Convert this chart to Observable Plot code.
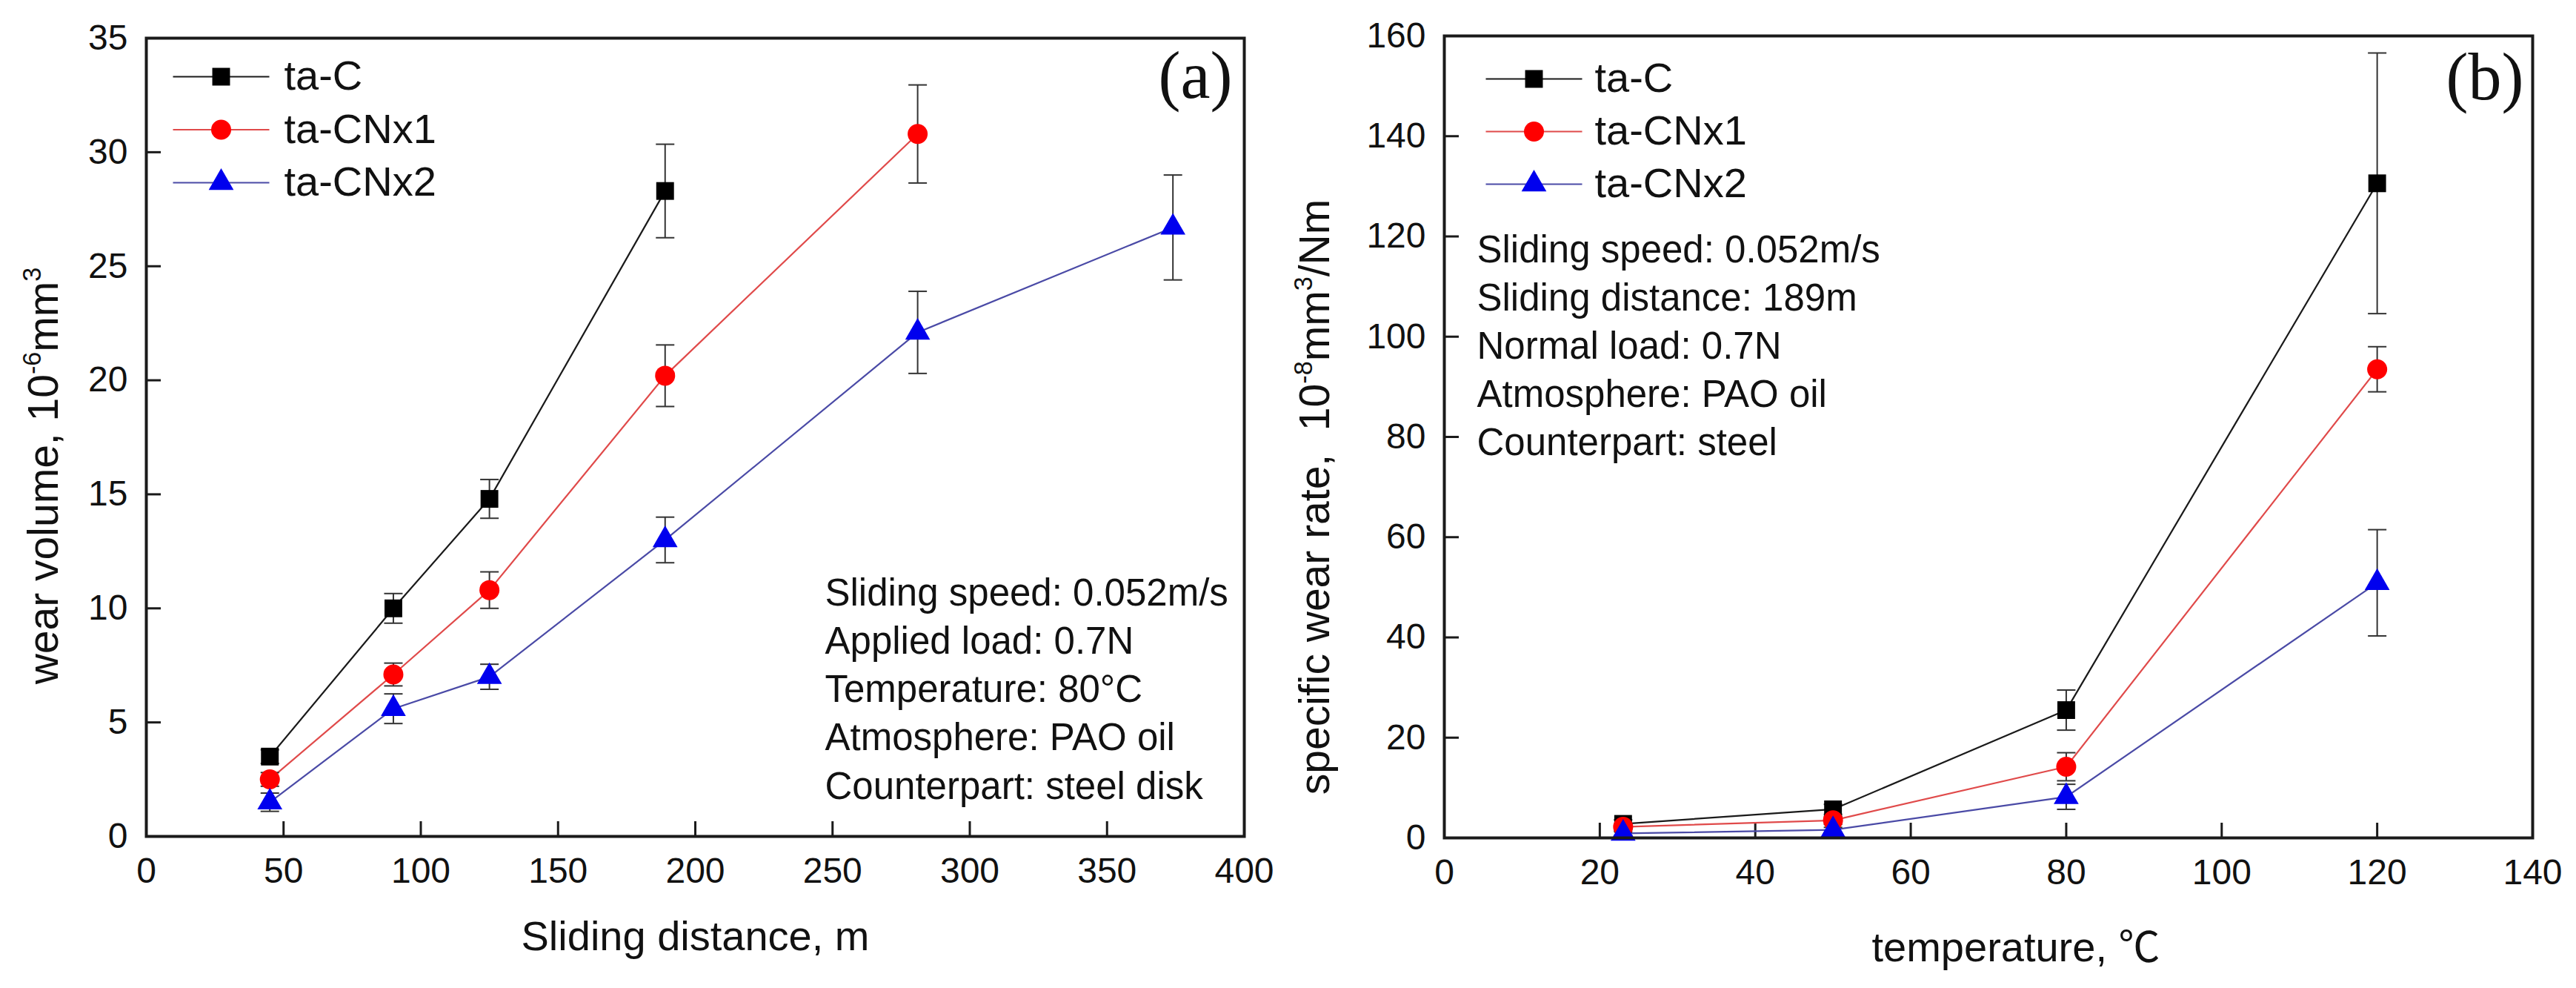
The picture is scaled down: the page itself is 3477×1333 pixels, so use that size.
<!DOCTYPE html>
<html>
<head>
<meta charset="utf-8">
<script src="https://cdn.jsdelivr.net/npm/d3@7"></script>
<script src="https://cdn.jsdelivr.net/npm/@observablehq/plot@0.6"></script>
<style>
  html, body { margin: 0; padding: 0; background: #fff; }
  #wrap { display: flex; flex-direction: row; width: 3477px; height: 1333px; overflow: hidden; background: #fff; }
  svg { display: block; }
</style>
</head>
<body>
<div id="wrap"></div>
<script>
// ---------- DATA ----------
const seriesNames = ["ta-C", "ta-CNx1", "ta-CNx2"];

// Panel (a): wear volume vs sliding distance
const distanceTaC   = [45, 90, 125, 189];
const volumeTaC     = [3.5, 10.0, 14.8, 28.3];
const volumeErrTaC  = [0.3, 0.65, 0.85, 2.05];

const distanceCNx1  = [45, 90, 125, 189, 281];
const volumeCNx1    = [2.5, 7.1, 10.8, 20.2, 30.8];
const volumeErrCNx1 = [0.3, 0.5, 0.8, 1.35, 2.15];

const distanceCNx2  = [45, 90, 125, 189, 281, 374];
const volumeCNx2    = [1.5, 5.6, 7.0, 13.0, 22.1, 26.7];
const volumeErrCNx2 = [0.4, 0.65, 0.55, 1.0, 1.8, 2.3];

// Panel (b): specific wear rate vs temperature
const temperatures  = [23, 50, 80, 120];
const rateTaC       = [2.8, 5.7, 25.5, 130.6];
const rateErrTaC    = [0.8, 1.0, 4.0, 26.0];
const rateCNx1      = [2.2, 3.5, 14.2, 93.5];
const rateErrCNx1   = [0.5, 0.8, 2.8, 4.5];
const rateCNx2      = [0.9, 1.6, 8.2, 50.9];
const rateErrCNx2   = [0.4, 0.5, 2.5, 10.6];

// Ticks
const distanceTicks    = [0, 50, 100, 150, 200, 250, 300, 350, 400];
const volumeTicks      = [0, 5, 10, 15, 20, 25, 30, 35];
const temperatureTicks = [0, 20, 40, 60, 80, 100, 120, 140];
const rateTicks        = [0, 20, 40, 60, 80, 100, 120, 140, 160];

// Texts
const xTitleA = "Sliding distance, m";
const yTitleA = "wear volume, 10^{-6}mm^{3}";
const xTitleB = "temperature, \u2103";
const yTitleB = "specific wear rate,  10^{-8}mm^{3}/Nm";
const notesA = ["Sliding speed: 0.052m/s", "Applied load: 0.7N", "Temperature: 80\u00B0C", "Atmosphere: PAO oil", "Counterpart: steel disk"];
const notesB = ["Sliding speed: 0.052m/s", "Sliding distance: 189m", "Normal load: 0.7N", "Atmosphere: PAO oil", "Counterpart: steel"];
const panelTagA = "(a)";
const panelTagB = "(b)";

// ---------- STYLE ----------
const seriesStyle = {
  "ta-C":    {fill: "#000000", line: "#1a1a1a", symbol: "square",   r: 13.5},
  "ta-CNx1": {fill: "#ff0000", line: "#e04a4a", symbol: "circle",   r: 13.5},
  "ta-CNx2": {fill: "#0000ee", line: "#4a4aa6", symbol: "triangle", r: 12.5}
};
const FONT = "'Liberation Sans', Arial, 'Noto Sans CJK SC', sans-serif";

function hLine(half) {
  return {draw(ctx) { ctx.moveTo(-half, 0); ctx.lineTo(half, 0); }};
}

function rowsOf(xs, ys, es) {
  return xs.map((x, i) => ({x, y: ys[i], lo: ys[i] - es[i], hi: ys[i] + es[i]}));
}

function applySup(svg, fontSize) {
  const ns = "http://www.w3.org/2000/svg";
  svg.querySelectorAll("text").forEach(t => {
    const s = t.textContent;
    if (!s.includes("^{")) return;
    while (t.firstChild) t.removeChild(t.firstChild);
    const shift = fontSize * 0.4;
    const re = /\^\{([^}]*)\}/g;
    let last = 0, m, raised = false;
    const add = (str, sup) => {
      const ts = document.createElementNS(ns, "tspan");
      ts.textContent = str;
      if (sup) { ts.setAttribute("font-size", fontSize * 0.6); ts.setAttribute("dy", -shift); raised = true; }
      else if (raised) { ts.setAttribute("dy", shift); raised = false; }
      t.appendChild(ts);
    };
    while ((m = re.exec(s))) {
      if (m.index > last) add(s.slice(last, m.index), false);
      add(m[1], true);
      last = re.lastIndex;
    }
    if (last < s.length) add(s.slice(last), false);
  });
}

function panel(cfg) {
  const innerW = cfg.width - cfg.ml - cfg.mr;
  const innerH = cfg.height - cfg.mt - cfg.mb;
  const marks = [];
  // axes labels (ticks drawn inward separately)
  marks.push(Plot.axisX(cfg.xTicks, {tickSize: 0, tickPadding: 28, fontSize: 48, label: null}));
  marks.push(Plot.axisY(cfg.yTicks, {tickSize: 0, tickPadding: 25, fontSize: 48, label: null}));
  // inward ticks
  marks.push(Plot.ruleX(cfg.xTicks, {x: d => d, insetTop: innerH - 20, stroke: "#1a1a1a", strokeWidth: 3}));
  marks.push(Plot.ruleY(cfg.yTicks, {y: d => d, insetRight: innerW - 20, stroke: "#1a1a1a", strokeWidth: 3}));
  // data
  cfg.series.forEach(s => {
    const st = seriesStyle[s.name];
    marks.push(Plot.line(s.rows, {x: "x", y: "y", stroke: st.line, strokeWidth: 2.2}));
  });
  cfg.series.forEach(s => {
    marks.push(Plot.ruleX(s.rows, {x: "x", y1: "lo", y2: "hi", stroke: "#333", strokeWidth: 2}));
    marks.push(Plot.dot(s.rows, {x: "x", y: "lo", symbol: hLine(12.5), fill: "none", stroke: "#333", strokeWidth: 2}));
    marks.push(Plot.dot(s.rows, {x: "x", y: "hi", symbol: hLine(12.5), fill: "none", stroke: "#333", strokeWidth: 2}));
  });
  cfg.series.forEach(s => {
    const st = seriesStyle[s.name];
    marks.push(Plot.dot(s.rows, {x: "x", y: "y", symbol: st.symbol, r: st.r, fill: st.fill, stroke: "none"}));
  });
  // legend
  seriesNames.forEach((name, i) => {
    const st = seriesStyle[name];
    const dy = cfg.legend.dy0 + i * cfg.legend.step;
    marks.push(Plot.dot([name], {x: null, y: null, frameAnchor: "top-left", dx: cfg.legend.lineDx, dy, symbol: hLine(65), fill: "none", stroke: st.line, strokeWidth: 2.2}));
    marks.push(Plot.dot([name], {x: null, y: null, frameAnchor: "top-left", dx: cfg.legend.lineDx, dy, symbol: st.symbol, r: st.r, fill: st.fill, stroke: "none"}));
    marks.push(Plot.text([name], {x: null, y: null, text: d => d, frameAnchor: "top-left", dx: cfg.legend.textDx, dy, textAnchor: "start", lineAnchor: "middle", fontSize: 56, fill: "#111"}));
  });
  // annotation
  marks.push(Plot.text([cfg.notes.join("\n")], {x: null, y: null, text: d => d, frameAnchor: "top-left", dx: cfg.notesDx, dy: cfg.notesDy, textAnchor: "start", lineAnchor: "bottom", lineHeight: cfg.notesLH, fontSize: 51, fill: "#111"}));
  // panel tag
  marks.push(Plot.text([cfg.tag], {x: null, y: null, text: d => d, frameAnchor: "top-right", dx: cfg.tagDx, dy: cfg.tagDy, textAnchor: "end", lineAnchor: "middle", fontFamily: "'Liberation Serif', 'Times New Roman', serif", fontSize: 90, fill: "#111"}));
  // axis titles
  marks.push(Plot.text([cfg.xTitle], {x: null, y: null, text: d => d, frameAnchor: "bottom", dx: cfg.xTitleDx, dy: cfg.xTitleDy, textAnchor: "middle", lineAnchor: "middle", fontSize: 56, fill: "#111"}));
  marks.push(Plot.text([cfg.yTitle], {x: null, y: null, text: d => d, frameAnchor: "left", rotate: -90, dx: cfg.yTitleDx, dy: cfg.yTitleDy, textAnchor: "middle", lineAnchor: "middle", fontSize: 57, fill: "#111"}));
  // frame
  marks.push(Plot.frame({stroke: "#1a1a1a", strokeWidth: 4}));

  const svg = Plot.plot({
    width: cfg.width,
    height: cfg.height,
    marginLeft: cfg.ml, marginRight: cfg.mr, marginTop: cfg.mt, marginBottom: cfg.mb,
    style: {fontFamily: FONT, fontSize: "48px", color: "#111", background: "#fff", overflow: "visible"},
    x: {domain: cfg.xDomain, label: null},
    y: {domain: cfg.yDomain, label: null},
    marks
  });
  applySup(svg, 57);
  return svg;
}

const wrap = document.getElementById("wrap");

wrap.appendChild(panel({
  width: 1720, height: 1333, ml: 197, mr: 41, mt: 51, mb: 205,
  xDomain: [0, 400], yDomain: [0, 35],
  xTicks: distanceTicks, yTicks: volumeTicks,
  series: [
    {name: "ta-C",    rows: rowsOf(distanceTaC, volumeTaC, volumeErrTaC)},
    {name: "ta-CNx1", rows: rowsOf(distanceCNx1, volumeCNx1, volumeErrCNx1)},
    {name: "ta-CNx2", rows: rowsOf(distanceCNx2, volumeCNx2, volumeErrCNx2)}
  ],
  legend: {dy0: 52, step: 71.5, lineDx: 101, textDx: 186},
  notes: notesA, notesDx: 916, notesDy: 1026, notesLH: 1.275,
  tag: panelTagA, tagDx: -16, tagDy: 52,
  xTitle: xTitleA, xTitleDx: 0, xTitleDy: 136,
  yTitle: yTitleA, yTitleDx: -138, yTitleDy: 52
}));

wrap.appendChild(panel({
  width: 1757, height: 1333, ml: 229, mr: 59, mt: 48, mb: 203,
  xDomain: [0, 140], yDomain: [0, 160],
  xTicks: temperatureTicks, yTicks: rateTicks,
  series: [
    {name: "ta-C",    rows: rowsOf(temperatures, rateTaC, rateErrTaC)},
    {name: "ta-CNx1", rows: rowsOf(temperatures, rateCNx1, rateErrCNx1)},
    {name: "ta-CNx2", rows: rowsOf(temperatures, rateCNx2, rateErrCNx2)}
  ],
  legend: {dy0: 58, step: 71, lineDx: 121, textDx: 203},
  notes: notesB, notesDx: 44, notesDy: 565, notesLH: 1.27,
  tag: panelTagB, tagDx: -12, tagDy: 57,
  xTitle: xTitleB, xTitleDx: 37, xTitleDy: 149,
  yTitle: yTitleB, yTitleDx: -174, yTitleDy: 81
}));
</script>
</body>
</html>
